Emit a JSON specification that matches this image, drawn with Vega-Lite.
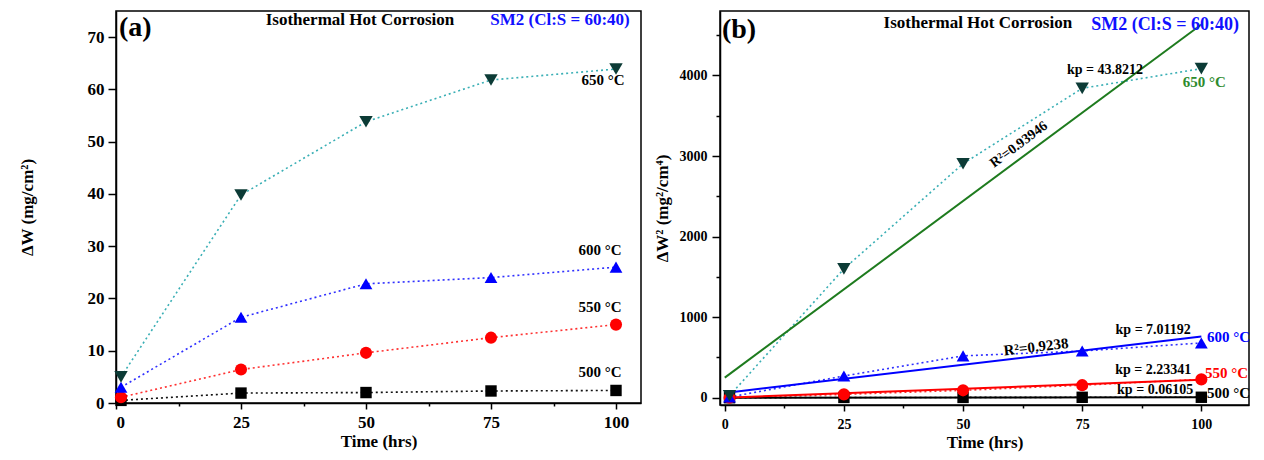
{
  "$schema": "https://vega.github.io/schema/vega-lite/v6.json",
  "padding": {"left": 17, "top": 10, "right": 5, "bottom": 5},
  "spacing": 10,
  "background": "white",
  "config": {
    "view": {"stroke": "black", "strokeWidth": 1.5},
    "font": "Liberation Serif",
    "axis": {
      "labelFont": "Liberation Serif", "titleFont": "Liberation Serif",
      "labelFontWeight": "bold", "titleFontWeight": "bold",
      "domainColor": "black", "tickColor": "black", "labelColor": "black", "titleColor": "black",
      "grid": false, "domainWidth": 1.5, "tickWidth": 1.5
    },
    "text": {"font": "Liberation Serif", "fontWeight": "bold"}
  },
  "datasets": {
    "pts": [
      {"series": "500", "t": 1, "w": 0.5, "w2": 0.3},
      {"series": "500", "t": 25, "w": 1.9, "w2": 4},
      {"series": "500", "t": 50, "w": 2.0, "w2": 4},
      {"series": "500", "t": 75, "w": 2.3, "w2": 5.5},
      {"series": "500", "t": 100, "w": 2.4, "w2": 6},
      {"series": "550", "t": 1, "w": 1.1, "w2": 1},
      {"series": "550", "t": 25, "w": 6.4, "w2": 42},
      {"series": "550", "t": 50, "w": 9.6, "w2": 92},
      {"series": "550", "t": 75, "w": 12.5, "w2": 156},
      {"series": "550", "t": 100, "w": 15.0, "w2": 228},
      {"series": "600", "t": 1, "w": 3.0, "w2": 9},
      {"series": "600", "t": 25, "w": 16.4, "w2": 270},
      {"series": "600", "t": 50, "w": 22.8, "w2": 520},
      {"series": "600", "t": 75, "w": 24.0, "w2": 580},
      {"series": "600", "t": 100, "w": 26.0, "w2": 680},
      {"series": "650", "t": 1, "w": 5.0, "w2": 25},
      {"series": "650", "t": 25, "w": 39.8, "w2": 1600},
      {"series": "650", "t": 50, "w": 53.8, "w2": 2905},
      {"series": "650", "t": 75, "w": 61.8, "w2": 3840},
      {"series": "650", "t": 100, "w": 63.9, "w2": 4085}
    ],
    "fit": [
      {"series": "500", "t": 0, "y": 0},
      {"series": "500", "t": 100, "y": 6},
      {"series": "550", "t": 0, "y": 0},
      {"series": "550", "t": 100, "y": 223},
      {"series": "600", "t": 0, "y": 60},
      {"series": "600", "t": 100, "y": 761},
      {"series": "650", "t": 0, "y": 250},
      {"series": "650", "t": 100, "y": 4632}
    ],
    "ann": [
      {"panel": "a", "kind": "tag", "txt": "(a)", "t": 0.6, "y": 71.7},
      {"panel": "a", "kind": "head", "txt": "Isothermal Hot Corrosion", "t": 48.8, "y": 73.3},
      {"panel": "a", "kind": "sm2", "txt": "SM2 (Cl:S = 60:40)", "t": 88.8, "y": 73.3},
      {"panel": "a", "kind": "temp", "series": "650", "txt": "650 °C", "t": 97.4, "y": 61.8},
      {"panel": "a", "kind": "temp", "series": "600", "txt": "600 °C", "t": 96.8, "y": 29.3},
      {"panel": "a", "kind": "temp", "series": "550", "txt": "550 °C", "t": 96.8, "y": 18.4},
      {"panel": "a", "kind": "temp", "series": "500", "txt": "500 °C", "t": 96.8, "y": 5.9},
      {"panel": "b", "kind": "tag", "txt": "(b)", "t": -0.6, "y": 4559},
      {"panel": "b", "kind": "head", "txt": "Isothermal Hot Corrosion", "t": 53.1, "y": 4646},
      {"panel": "b", "kind": "sm2", "txt": "SM2 (Cl:S = 60:40)", "t": 92.4, "y": 4621},
      {"panel": "b", "kind": "kp", "txt": "kp = 43.8212", "t": 79.8, "y": 4062},
      {"panel": "b", "kind": "kp", "txt": "kp = 7.01192", "t": 89.9, "y": 845},
      {"panel": "b", "kind": "kp", "txt": "kp = 2.23341", "t": 89.9, "y": 348},
      {"panel": "b", "kind": "kp", "txt": "kp = 0.06105", "t": 90.3, "y": 99},
      {"panel": "b", "kind": "temp", "series": "650", "txt": "650 °C", "t": 100.6, "y": 3913},
      {"panel": "b", "kind": "temp", "series": "600", "txt": "600 °C", "t": 105.7, "y": 758},
      {"panel": "b", "kind": "temp", "series": "550", "txt": "550 °C", "t": 105.3, "y": 311},
      {"panel": "b", "kind": "temp", "series": "500", "txt": "500 °C", "t": 105.7, "y": 62},
      {"panel": "b", "kind": "r2g", "txt": "R²=0.93946", "t": 61.7, "y": 3143},
      {"panel": "b", "kind": "r2b", "txt": "R²=0.9238", "t": 65.3, "y": 634}
    ]
  },
  "hconcat": [
    {
      "width": 525,
      "height": 392,
      "layer": [
        {
          "data": {"name": "pts"},
          "mark": {"type": "line", "strokeDash": [2, 3], "strokeWidth": 1.6},
          "encoding": {
            "x": {"field": "t", "type": "quantitative",
              "scale": {"domain": [0, 105], "nice": false, "zero": false},
              "axis": {
                "values": [0, 12.5, 25, 37.5, 50, 62.5, 75, 87.5, 100],
                "format": "d",
                "labelExpr": "datum.value % 25 == 0 ? datum.label : ''",
                "tickSize": {"condition": {"test": "datum.value % 25 == 0", "value": 6}, "value": 3},
                "labelFontSize": 17, "labelPadding": 5,
                "title": "Time (hrs)", "titleFontSize": 17, "titlePadding": 3
              }},
            "y": {"field": "w", "type": "quantitative",
              "scale": {"domain": [0, 75], "nice": false, "zero": false},
              "axis": {
                "values": [0, 5, 10, 15, 20, 25, 30, 35, 40, 45, 50, 55, 60, 65, 70],
                "format": "d",
                "labelExpr": "datum.value % 10 == 0 ? datum.label : ''",
                "tickSize": {"condition": {"test": "datum.value % 10 == 0", "value": 8}, "value": 4},
                "labelFontSize": 17, "labelPadding": 4,
                "title": "ΔW  (mg/cm²)", "titleFontSize": 17,
                "titleBaseline": "middle", "titleX": -89
              }},
            "color": {"field": "series", "type": "nominal",
              "scale": {"domain": ["500", "550", "600", "650"], "range": ["#111111", "#ff3030", "#3030ff", "#3aafb5"]},
              "legend": null}
          }
        },
        {
          "data": {"name": "pts"},
          "mark": {"type": "point", "filled": true, "opacity": 1},
          "encoding": {
            "x": {"field": "t", "type": "quantitative"},
            "y": {"field": "w", "type": "quantitative"},
            "shape": {"field": "series", "type": "nominal",
              "scale": {"domain": ["500", "550", "600", "650"], "range": ["square", "circle", "triangle-up", "triangle-down"]},
              "legend": null},
            "size": {"field": "series", "type": "nominal",
              "scale": {"domain": ["500", "550", "600", "650"], "range": [130, 180, 180, 180]},
              "legend": null},
            "color": {"field": "series", "type": "nominal",
              "scale": {"domain": ["500", "550", "600", "650"], "range": ["#000000", "#ff0000", "#0000ff", "#0c3b36"]},
              "legend": null}
          }
        },
        {
          "data": {"name": "ann"},
          "transform": [{"filter": "datum.panel == 'a' && datum.kind == 'temp'"}],
          "mark": {"type": "text", "fontSize": 15, "align": "center", "baseline": "middle", "color": "black"},
          "encoding": {
            "x": {"field": "t", "type": "quantitative"},
            "y": {"field": "y", "type": "quantitative"},
            "text": {"field": "txt"}
          }
        },
        {
          "data": {"name": "ann"},
          "transform": [{"filter": "datum.panel == 'a' && datum.kind == 'tag'"}],
          "mark": {"type": "text", "fontSize": 28, "align": "left", "baseline": "middle", "color": "black"},
          "encoding": {
            "x": {"field": "t", "type": "quantitative"},
            "y": {"field": "y", "type": "quantitative"},
            "text": {"field": "txt"}
          }
        },
        {
          "data": {"name": "ann"},
          "transform": [{"filter": "datum.panel == 'a' && datum.kind == 'head'"}],
          "mark": {"type": "text", "fontSize": 17, "align": "center", "baseline": "middle", "color": "black"},
          "encoding": {
            "x": {"field": "t", "type": "quantitative"},
            "y": {"field": "y", "type": "quantitative"},
            "text": {"field": "txt"}
          }
        },
        {
          "data": {"name": "ann"},
          "transform": [{"filter": "datum.panel == 'a' && datum.kind == 'sm2'"}],
          "mark": {"type": "text", "fontSize": 17, "align": "center", "baseline": "middle", "color": "#1010ff"},
          "encoding": {
            "x": {"field": "t", "type": "quantitative"},
            "y": {"field": "y", "type": "quantitative"},
            "text": {"field": "txt"}
          }
        }
      ],
      "resolve": {"scale": {"color": "independent"}}
    },
    {
      "width": 529,
      "height": 394,
      "layer": [
        {
          "data": {"name": "pts"},
          "mark": {"type": "line", "strokeDash": [2, 3], "strokeWidth": 1.6},
          "encoding": {
            "x": {"field": "t", "type": "quantitative",
              "scale": {"domain": [-1, 110], "nice": false, "zero": false},
              "axis": {
                "values": [0, 12.5, 25, 37.5, 50, 62.5, 75, 87.5, 100],
                "format": "d",
                "labelExpr": "datum.value % 25 == 0 ? datum.label : ''",
                "tickSize": {"condition": {"test": "datum.value % 25 == 0", "value": 6}, "value": 3},
                "labelFontSize": 14, "labelPadding": 6,
                "title": "Time (hrs)", "titleFontSize": 17, "titlePadding": 3
              }},
            "y": {"field": "w2", "type": "quantitative",
              "scale": {"domain": [-90, 4800], "nice": false, "zero": false},
              "axis": {
                "values": [0, 500, 1000, 1500, 2000, 2500, 3000, 3500, 4000, 4500],
                "format": "d",
                "labelExpr": "datum.value % 1000 == 0 ? datum.label : ''",
                "tickSize": {"condition": {"test": "datum.value % 1000 == 0", "value": 8}, "value": 4},
                "labelFontSize": 14, "labelPadding": 5,
                "title": "ΔW² (mg²/cm⁴)", "titleFontSize": 17,
                "titleBaseline": "middle", "titleX": -58
              }},
            "color": {"field": "series", "type": "nominal",
              "scale": {"domain": ["500", "550", "600", "650"], "range": ["#111111", "#ff3030", "#3030ff", "#3aafb5"]},
              "legend": null}
          }
        },
        {
          "data": {"name": "fit"},
          "mark": {"type": "line", "strokeWidth": 2},
          "encoding": {
            "x": {"field": "t", "type": "quantitative"},
            "y": {"field": "y", "type": "quantitative"},
            "color": {"field": "series", "type": "nominal",
              "scale": {"domain": ["500", "550", "600", "650"], "range": ["#000000", "#ff0000", "#0000ff", "#1e7b1e"]},
              "legend": null}
          }
        },
        {
          "data": {"name": "pts"},
          "mark": {"type": "point", "filled": true, "opacity": 1},
          "encoding": {
            "x": {"field": "t", "type": "quantitative"},
            "y": {"field": "w2", "type": "quantitative"},
            "shape": {"field": "series", "type": "nominal",
              "scale": {"domain": ["500", "550", "600", "650"], "range": ["square", "circle", "triangle-up", "triangle-down"]},
              "legend": null},
            "size": {"field": "series", "type": "nominal",
              "scale": {"domain": ["500", "550", "600", "650"], "range": [130, 180, 180, 180]},
              "legend": null},
            "color": {"field": "series", "type": "nominal",
              "scale": {"domain": ["500", "550", "600", "650"], "range": ["#000000", "#ff0000", "#0000ff", "#0c3b36"]},
              "legend": null}
          }
        },
        {
          "data": {"name": "ann"},
          "transform": [{"filter": "datum.panel == 'b' && datum.kind == 'temp'"}],
          "mark": {"type": "text", "fontSize": 15, "align": "center", "baseline": "middle"},
          "encoding": {
            "x": {"field": "t", "type": "quantitative"},
            "y": {"field": "y", "type": "quantitative"},
            "text": {"field": "txt"},
            "color": {"field": "series", "type": "nominal",
              "scale": {"domain": ["500", "550", "600", "650"], "range": ["#000000", "#ff0000", "#0000ff", "#2e8b2e"]},
              "legend": null}
          }
        },
        {
          "data": {"name": "ann"},
          "transform": [{"filter": "datum.panel == 'b' && datum.kind == 'kp'"}],
          "mark": {"type": "text", "fontSize": 14, "align": "center", "baseline": "middle", "color": "black"},
          "encoding": {
            "x": {"field": "t", "type": "quantitative"},
            "y": {"field": "y", "type": "quantitative"},
            "text": {"field": "txt"}
          }
        },
        {
          "data": {"name": "ann"},
          "transform": [{"filter": "datum.panel == 'b' && datum.kind == 'r2g'"}],
          "mark": {"type": "text", "fontSize": 14, "align": "center", "baseline": "middle", "angle": 323.4, "color": "black"},
          "encoding": {
            "x": {"field": "t", "type": "quantitative"},
            "y": {"field": "y", "type": "quantitative"},
            "text": {"field": "txt"}
          }
        },
        {
          "data": {"name": "ann"},
          "transform": [{"filter": "datum.panel == 'b' && datum.kind == 'r2b'"}],
          "mark": {"type": "text", "fontSize": 15, "align": "center", "baseline": "middle", "angle": 353.3, "color": "black"},
          "encoding": {
            "x": {"field": "t", "type": "quantitative"},
            "y": {"field": "y", "type": "quantitative"},
            "text": {"field": "txt"}
          }
        },
        {
          "data": {"name": "ann"},
          "transform": [{"filter": "datum.panel == 'b' && datum.kind == 'tag'"}],
          "mark": {"type": "text", "fontSize": 28, "align": "left", "baseline": "middle", "color": "black"},
          "encoding": {
            "x": {"field": "t", "type": "quantitative"},
            "y": {"field": "y", "type": "quantitative"},
            "text": {"field": "txt"}
          }
        },
        {
          "data": {"name": "ann"},
          "transform": [{"filter": "datum.panel == 'b' && datum.kind == 'head'"}],
          "mark": {"type": "text", "fontSize": 17, "align": "center", "baseline": "middle", "color": "black"},
          "encoding": {
            "x": {"field": "t", "type": "quantitative"},
            "y": {"field": "y", "type": "quantitative"},
            "text": {"field": "txt"}
          }
        },
        {
          "data": {"name": "ann"},
          "transform": [{"filter": "datum.panel == 'b' && datum.kind == 'sm2'"}],
          "mark": {"type": "text", "fontSize": 18, "align": "center", "baseline": "middle", "color": "#1010ff"},
          "encoding": {
            "x": {"field": "t", "type": "quantitative"},
            "y": {"field": "y", "type": "quantitative"},
            "text": {"field": "txt"}
          }
        }
      ],
      "resolve": {"scale": {"color": "independent"}}
    }
  ]
}
